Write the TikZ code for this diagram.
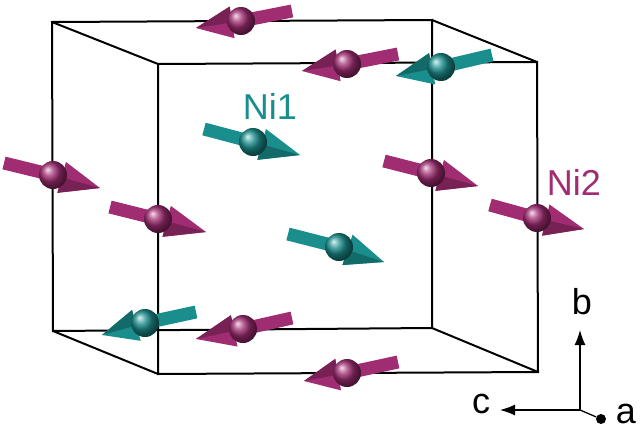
\documentclass[tikz,border=0pt]{standalone}
\usepackage{fontspec}
\setmainfont{Liberation Sans}
\usetikzlibrary{calc,arrows.meta}
\definecolor{mag}{HTML}{A02C72}
\definecolor{tea}{HTML}{1A8E8C}
\tikzset{edge/.style={line width=2pt,black},
 atom/.style={circle,minimum size=28pt,inner sep=0pt,ball color=#1},
 axis/.style={line width=1.3pt,-{Latex[length=15pt,width=11pt]}},
 lbl/.style={font=\fontsize{36}{36}\selectfont}}
\newcommand{\spinarrow}[4]{%
 \coordinate (#2t) at #3; \coordinate (#2p) at #4;
 \draw[line width=13pt,#1] (#2t) -- (#2);
 \coordinate (#2b) at ($(#2)!9pt!(#2p)$);
 \fill[#1] ($(#2b)!16pt!90:(#2p)$) -- (#2p) -- ($(#2b)!16pt!-90:(#2p)$) -- cycle;
 \fill[#1!75!black] ($(#2b)!16pt!-90:(#2p)$) -- (#2p) -- (#2b) -- cycle;
 \node[atom=#1] (#2n) at (#2) {};}
\begin{document}
\begin{tikzpicture}[x=1pt,y=-1pt]
\useasboundingbox (0,0) rectangle (640,431);
\coordinate (B1) at (52,22); \coordinate (B2) at (432,20);
\coordinate (B3) at (432,328); \coordinate (B4) at (53,331);
\coordinate (F1) at (158,64); \coordinate (F2) at (537,62);
\coordinate (F3) at (538,372); \coordinate (F4) at (158,374);
\draw[edge] (B1)--(B2)--(B3)--(B4)--cycle;
\draw[edge] (F1)--(F2)--(F3)--(F4)--cycle;
\draw[edge] (B1)--(F1) (B2)--(F2) (B3)--(F3) (B4)--(F4);
% magenta
\coordinate (m1) at (241,21); \spinarrow{mag}{m1}{(292,11)}{(196,28)}
\coordinate (m2) at (347,64); \spinarrow{mag}{m2}{(398,54)}{(302,71)}
\coordinate (m3) at (53,175); \spinarrow{mag}{m3}{(4,163)}{(100,188)}
\coordinate (m4) at (158,219); \spinarrow{mag}{m4}{(110,207)}{(206,232)}
\coordinate (m5) at (431,173); \spinarrow{mag}{m5}{(384,161)}{(478,186)}
\coordinate (m6) at (537,218); \spinarrow{mag}{m6}{(490,205)}{(584,229)}
\coordinate (m7) at (243,329); \spinarrow{mag}{m7}{(292,318)}{(196,339)}
\coordinate (m8) at (347,373); \spinarrow{mag}{m8}{(398,362)}{(304,381)}
% teal
\coordinate (t1) at (441,67); \spinarrow{tea}{t1}{(492,55)}{(396,76)}
\coordinate (t2) at (253,142); \spinarrow{tea}{t2}{(204,129)}{(300,155)}
\coordinate (t3) at (339,247); \spinarrow{tea}{t3}{(288,234)}{(384,262)}
\coordinate (t4) at (145,323); \spinarrow{tea}{t4}{(196,312)}{(102,335)}
\node[tea,lbl] (ni1) at (270,106) {Ni1};
\node[mag,lbl] (ni2) at (574,182) {Ni2};
% axes
\coordinate (o) at (580,410);
\coordinate (bt) at (580,330); \coordinate (ct) at (500,410);
\draw[axis] (o) -- (bt);
\draw[axis] (o) -- (ct);
\node[circle,fill=black,inner sep=0pt,minimum size=10pt] (ad) at (601,419) {};
\draw[line width=1.3pt] (o) -- (ad);
\node[lbl] (bl) at (582,302) {b};
\node[lbl] (cl) at (481,404) {c};
\node[lbl] (al) at (626,414) {a};
\end{tikzpicture}
\end{document}
